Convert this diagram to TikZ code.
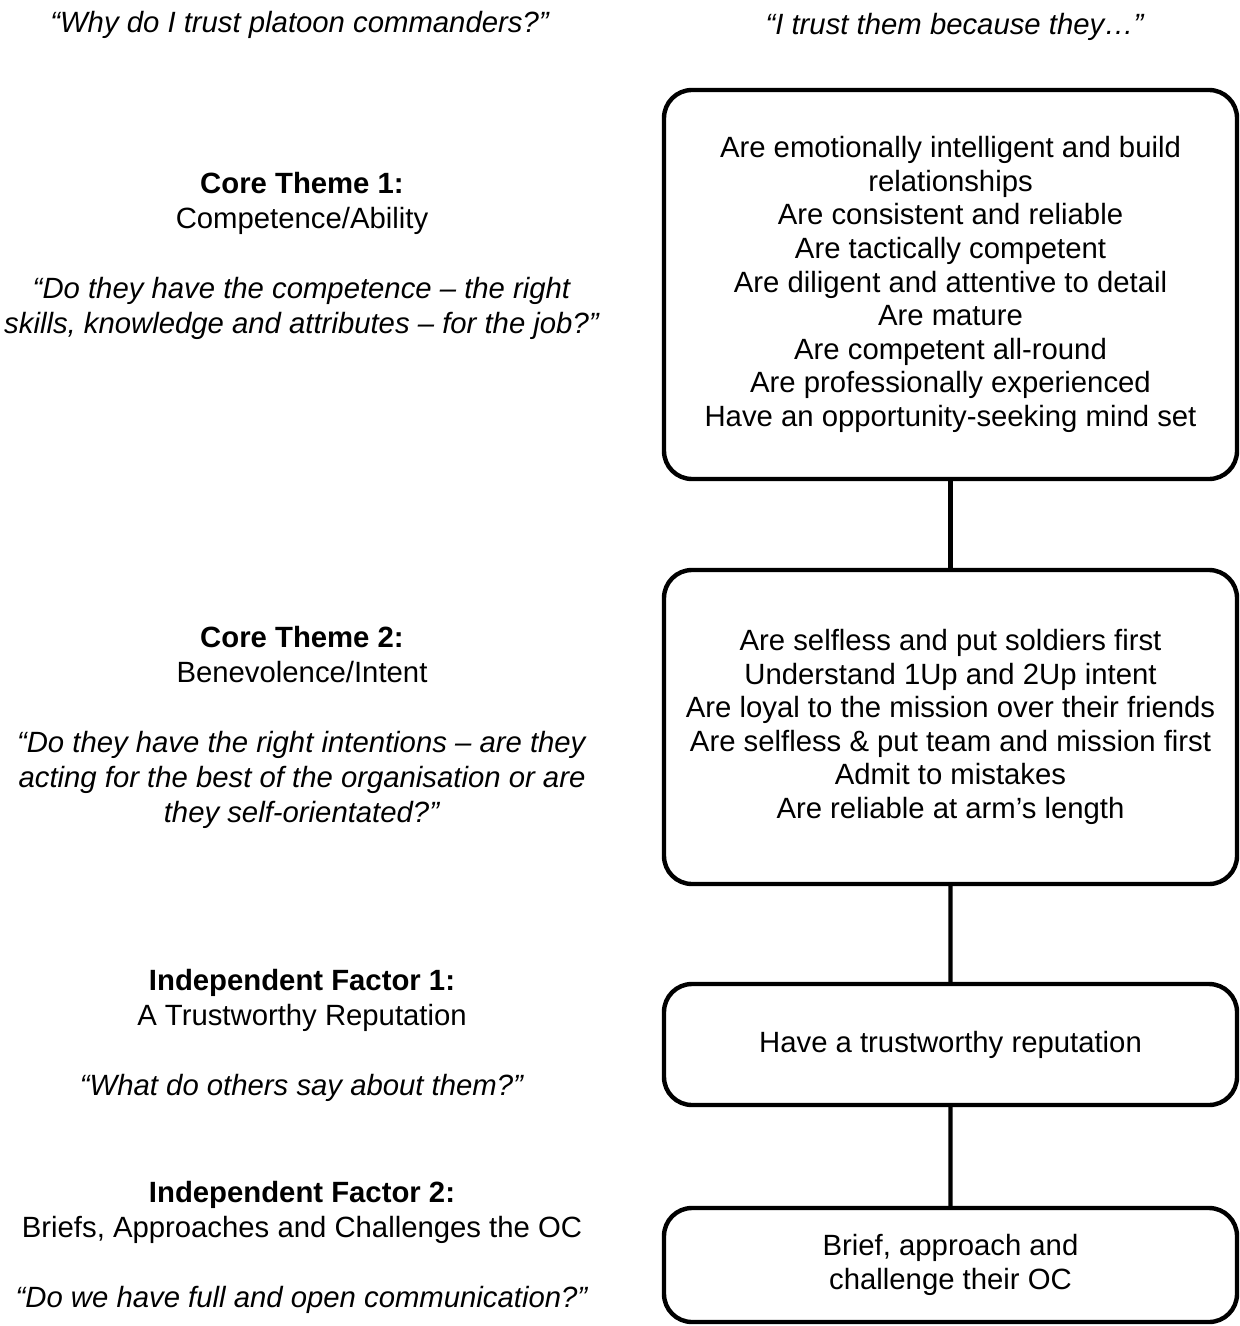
\documentclass[tikz,border=0pt]{standalone}
\usepackage{fontspec}
\setmainfont{Liberation Sans}
\usepackage{tikz}

\begin{document}
\begin{tikzpicture}[x=0.5pt,y=-0.5pt,level 1/.style={level distance=221.25pt},level 2/.style={level distance=158.75pt},level 3/.style={level distance=110.25pt},
every node/.style={font=\fontsize{14.65pt}{16.8pt}\selectfont, align=center, inner sep=0pt},
box/.style={draw, line width=2.2pt, rounded corners=14pt, minimum width=286.5pt},
lbl/.style={font=\fontsize{14.65pt}{17.5pt}\selectfont},
edge from parent/.style={draw, line width=2.1pt}]
\useasboundingbox (0,0) rectangle (1240,1326);
\node (q1) at (300,25) {\textit{“Why do I trust platoon commanders?”}};
\node (q2) at (955,27) {\textit{“I trust them because they…”}};
\node [lbl] (l1) at (302,256) {\textbf{Core Theme 1:}\\Competence/Ability\\[17.5pt]\textit{“Do they have the competence – the right}\\\textit{skills, knowledge and attributes – for the job?”}};
\node [lbl] (l2) at (302,727.5) {\textbf{Core Theme 2:}\\Benevolence/Intent\\[17.5pt]\textit{“Do they have the right intentions – are they}\\\textit{acting for the best of the organisation or are}\\\textit{they self-orientated?”}};
\node [lbl] (l3) at (302,1035.5) {\textbf{Independent Factor 1:}\\A Trustworthy Reputation\\[17.5pt]\textit{“What do others say about them?”}};
\node [lbl] (l4) at (302,1247.5) {\textbf{Independent Factor 2:}\\Briefs, Approaches and Challenges the OC\\[17.5pt]\textit{“Do we have full and open communication?”}};
\node [box, minimum height=194.5pt] (a) at (950.5,284.5) {Are emotionally intelligent and build\\relationships\\Are consistent and reliable\\Are tactically competent\\Are diligent and attentive to detail\\Are mature\\Are competent all-round\\Are professionally experienced\\Have an opportunity-seeking mind set}
child{ node [box, minimum height=157pt] (b) {Are selfless and put soldiers first\\Understand 1Up and 2Up intent\\Are loyal to the mission over their friends\\Are selfless \& put team and mission first\\Admit to mistakes\\Are reliable at arm’s length}
   child{ node [box, minimum height=60.5pt] (c) {Have a trustworthy reputation}
      child{ node [box, minimum height=57pt] (d) {Brief, approach and\\challenge their OC} }
   }
};
\end{tikzpicture}
\end{document}
